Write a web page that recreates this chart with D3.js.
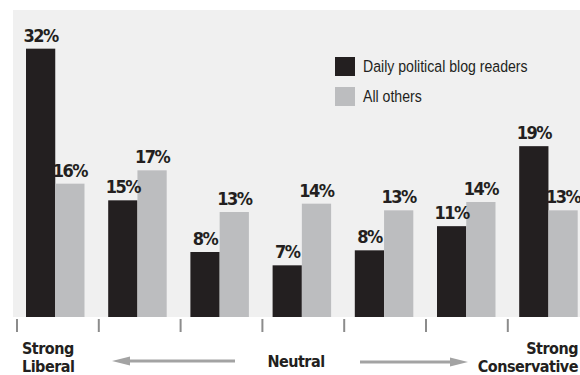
<!DOCTYPE html>
<html>
<head>
<meta charset="utf-8">
<script src="https://cdn.jsdelivr.net/npm/d3@7"></script>
<style>
body { margin: 0; background: #fff; }
.lbl { font-family: "DejaVu Sans Condensed", "DejaVu Sans", sans-serif; font-weight: bold; fill: #231f20; }
.leg { font-family: "Liberation Sans", Arial, sans-serif; fill: #231f20; }
</style>
</head>
<body>
<div id="chart"></div>
<script>
// data (bar heights) + the printed labels
var categories = ["Strong Liberal", "2", "3", "Neutral", "5", "6", "Strong Conservative"];
var blogReaders = [32.2, 14.0, 7.8, 6.2, 8.0, 10.9, 20.5];
var allOthers = [16.0, 17.6, 12.6, 13.6, 12.8, 13.8, 12.8];
var blogLabels = ["32%", "15%", "8%", "7%", "8%", "11%", "19%"];
var otherLabels = ["16%", "17%", "13%", "14%", "13%", "14%", "13%"];
var seriesNames = ["Daily political blog readers", "All others"];
var colors = ["#231f20", "#bcbdbf"];

var width = 580, height = 375;
var svg = d3.select("#chart")
    .append("svg")
        .attr("width", width)
        .attr("height", height);

// background panel
svg.append("rect")
    .attr("x", 13).attr("y", 10)
    .attr("width", width - 13).attr("height", 307)
    .attr("fill", "#f0f0f0");

//scales
var x = d3.scaleBand()
    .domain(categories)
    .range([16, 16 + 7 * 82.2]);
var xSub = d3.scaleBand()
    .domain([0, 1])
    .range([10, 68.5]);
var y = d3.scaleLinear()
    .domain([0, 36])
    .range([317, 17]);

var rows = categories.map(function(c, i) {
    return {cat: c, vals: [blogReaders[i], allOthers[i]], labels: [blogLabels[i], otherLabels[i]]};
});

var groups = svg.append("g")
    .selectAll("g")
    .data(rows)
    .enter()
    .append("g")
        .attr("transform", function(d) { return "translate(" + x(d.cat) + ",0)"; });

groups.selectAll("rect")
    .data(function(d) { return d.vals; })
    .enter()
    .append("rect")
        .attr("x", function(d, j) { return xSub(j); })
        .attr("y", function(d) { return y(d); })
        .attr("width", xSub.bandwidth())
        .attr("height", function(d) { return y(0) - y(d); })
        .attr("fill", function(d, j) { return colors[j]; });

groups.selectAll("text")
    .data(function(d) { return d.vals.map(function(v, j) { return {v: v, t: d.labels[j], j: j}; }); })
    .enter()
    .append("text")
        .attr("class", "lbl")
        .attr("x", function(d) { return xSub(d.j) + xSub.bandwidth() / 2; })
        .attr("y", function(d) { return y(d.v) - 7; })
        .attr("text-anchor", "middle")
        .style("font-size", "18px")
        .style("letter-spacing", "-1.5px")
        .text(function(d) { return d.t; });

// tick marks at the start of each group
svg.append("g")
    .selectAll("line")
    .data(categories)
    .enter()
    .append("line")
        .attr("x1", function(d, i) { return x(d) + 1 - i * 0.4; })
        .attr("x2", function(d, i) { return x(d) + 1 - i * 0.4; })
        .attr("y1", 319).attr("y2", 332)
        .attr("stroke", "#8c8c8c")
        .attr("stroke-width", 2);

// legend
var legend = svg.append("g").attr("transform", "translate(335,57)");
seriesNames.forEach(function(s, i) {
    legend.append("rect")
        .attr("x", 0).attr("y", i * 30)
        .attr("width", 20).attr("height", 19)
        .attr("fill", colors[i]);
    legend.append("text")
        .attr("class", "leg")
        .attr("transform", "translate(28," + (i * 30 + 14.5) + ") scale(0.83,1)")
        .style("font-size", "17px")
        .text(s);
});

// bottom scale labels
function axisText(lines, xpos, anchor, y0) {
    var t = svg.append("text")
        .attr("class", "lbl")
        .attr("text-anchor", anchor)
        .style("font-size", "16px")
        .style("letter-spacing", "-0.5px");
    lines.forEach(function(l, i) {
        t.append("tspan").attr("x", xpos).attr("y", y0 + i * 17.5).text(l);
    });
}
axisText(["Strong", "Liberal"], 22, "start", 354);
axisText(["Strong", "Conservative"], 578, "end", 354);
axisText(["Neutral"], 296, "middle", 367);

// arrows
var arrowColor = "#a3a3a3";
svg.append("line")
    .attr("x1", 126).attr("x2", 235).attr("y1", 361).attr("y2", 361)
    .attr("stroke", arrowColor).attr("stroke-width", 3);
svg.append("path")
    .attr("d", "M112,361 L130,356.5 L130,365.5 Z")
    .attr("fill", arrowColor);
svg.append("line")
    .attr("x1", 360).attr("x2", 454).attr("y1", 362).attr("y2", 362)
    .attr("stroke", arrowColor).attr("stroke-width", 3);
svg.append("path")
    .attr("d", "M468,362 L450,357.5 L450,366.5 Z")
    .attr("fill", arrowColor);
</script>
</body>
</html>
